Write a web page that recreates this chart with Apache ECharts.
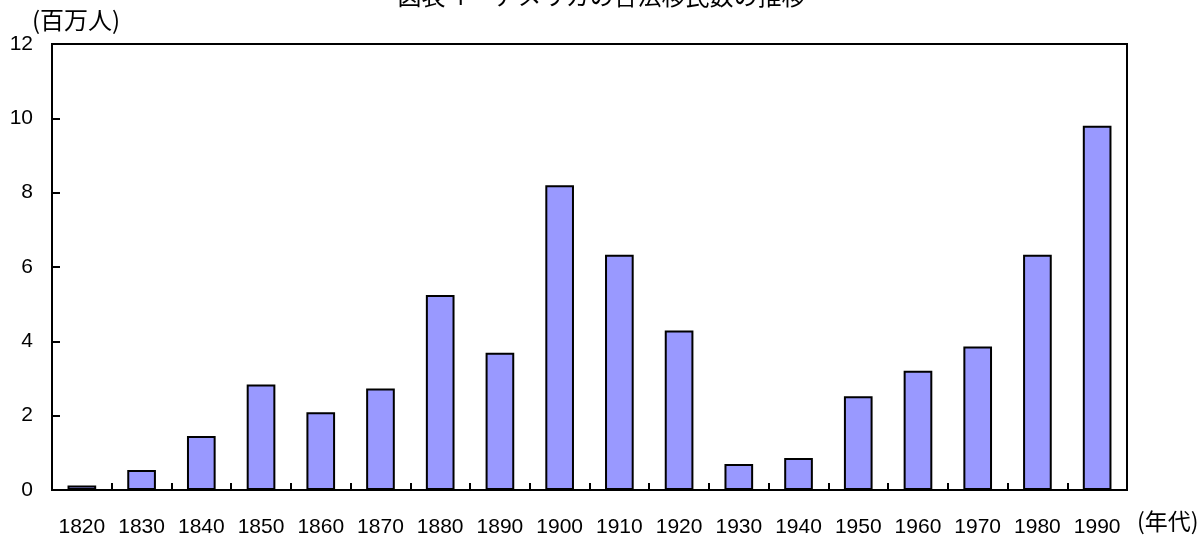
<!DOCTYPE html>
<html>
<head>
<meta charset="utf-8">
<script src="https://cdn.jsdelivr.net/npm/echarts@6/dist/echarts.min.js"></script>
<style>html,body{margin:0;padding:0;background:#fff;}#c{width:1203px;height:538px;}</style>
</head>
<body>
<div id="c"></div>
<script>
const categories = ['1820','1830','1840','1850','1860','1870','1880','1890','1900','1910','1920','1930','1940','1950','1960','1970','1980','1990'];
const immigrants = [0.12,0.54,1.45,2.84,2.09,2.73,5.25,3.69,8.20,6.33,4.29,0.70,0.86,2.52,3.21,3.86,6.33,9.80];
const titleText = '図表４　アメリカの合法移民数の推移';
const unitY = '(百万人)';
const unitX = '(年代)';

const FONT = '"Liberation Sans", Arial, "Noto Sans CJK JP", sans-serif';
const chart = echarts.init(document.getElementById('c'), null, {renderer:'canvas'});
chart.setOption({
  backgroundColor:'#fff',
  animation:false,
  title:[
    {text:titleText, left:'center', top:-16, padding:0,
     textStyle:{fontFamily:'"Noto Sans CJK JP", sans-serif', fontSize:24, fontWeight:'normal', color:'#000'}},
    {text:unitY, left:32, top:8, padding:0,
     textStyle:{fontFamily:'"Noto Sans CJK JP", sans-serif', fontSize:24, fontWeight:'normal', color:'#000'}}
  ],
  grid:{left:52, right:76, top:44, bottom:46, show:true, borderColor:'#000', borderWidth:2, backgroundColor:'transparent'},
  xAxis:{
    type:'category', data:categories, boundaryGap:true,
    name:unitX, nameLocation:'end', nameGap:10,
    nameTextStyle:{fontFamily:'"Noto Sans CJK JP", sans-serif', fontSize:23, color:'#000', verticalAlign:'top', padding:[20,0,0,0]},
    axisLine:{lineStyle:{color:'#000', width:2}},
    axisTick:{show:true, inside:true, length:7, lineStyle:{color:'#000', width:2}},
    axisLabel:{color:'#000', fontFamily:FONT, fontSize:21, margin:27, interval:0},
    splitLine:{show:false}
  },
  yAxis:{
    type:'value', min:0, max:12, interval:2,
    axisLine:{show:true, lineStyle:{color:'#000', width:2}},
    axisTick:{show:true, inside:true, length:8, lineStyle:{color:'#000', width:2}},
    axisLabel:{color:'#000', fontFamily:FONT, fontSize:21, margin:19},
    splitLine:{show:false}
  },
  series:[{
    type:'bar', data:immigrants, barWidth:'48%',
    itemStyle:{color:'#9999FF', borderColor:'#000', borderWidth:2}
  }]
});
</script>
</body>
</html>
